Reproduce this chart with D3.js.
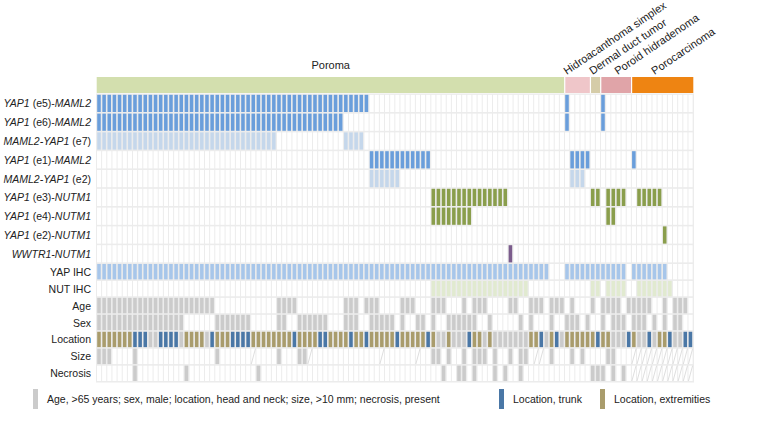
<!DOCTYPE html>
<html><head><meta charset="utf-8">
<script src="https://cdn.jsdelivr.net/npm/d3@7"></script>
<style>body{margin:0;background:#fff}svg{display:block;font-family:"Liberation Sans",Arial,sans-serif}</style>
</head><body><svg id="c" width="768" height="444"></svg>
<script>
// ---------- DATA ----------
const groups = ["Poroma","Hidroacanthoma simplex","Dermal duct tumor","Poroid hidradenoma","Porocarcinoma"];
const groupSizes = [91,5,2,6,12];
const nCases = 116;

const fusionRows = [
  {label:[["YAP1",1],[" (e5)-",0],["MAML2",1]], kind:"dark",  ranges:[[0,52],[91,91],[98,98]]},
  {label:[["YAP1",1],[" (e6)-",0],["MAML2",1]], kind:"dark",  ranges:[[0,47],[91,91],[98,98]]},
  {label:[["MAML2-YAP1",1],[" (e7)",0]],        kind:"light", ranges:[[0,34],[48,51]]},
  {label:[["YAP1",1],[" (e1)-",0],["MAML2",1]], kind:"dark",  ranges:[[53,64],[92,95],[104,104]]},
  {label:[["MAML2-YAP1",1],[" (e2)",0]],        kind:"light", ranges:[[53,58],[92,94]]},
  {label:[["YAP1",1],[" (e3)-",0],["NUTM1",1]], kind:"green", ranges:[[65,79],[96,97],[99,102],[105,109]]},
  {label:[["YAP1",1],[" (e4)-",0],["NUTM1",1]], kind:"green", ranges:[[65,72],[99,100]]},
  {label:[["YAP1",1],[" (e2)-",0],["NUTM1",1]], kind:"green", ranges:[[110,110]]},
  {label:[["WWTR1-NUTM1",1]],                  kind:"purple",ranges:[[80,80]]}
];

const yapIHC = [[0,87],[91,102],[104,110]];
const nutIHC = [[65,83],[96,97],[99,102],[105,111]];
const age = [[0,22],[35,38],[48,50],[52,54],[59,61],[65,67],[71,71],[73,75],[80,81],[84,86],[88,90],[92,92],[96,96],[98,101],[103,107],[110,110],[112,114]];
const sex = [[0,16],[23,29],[35,36],[39,44],[48,50],[53,57],[59,59],[62,63],[65,65],[68,73],[76,76],[82,82],[84,84],[88,88],[91,93],[95,95],[98,98],[100,102],[104,106],[108,108],[110,110],[112,113]];
// E = extremities, T = trunk, H = head and neck
const locationSegments = ["EEEEEEE","TTT","HH","TTTT","H","EEEE","H","T","EEE","TTTT","EEEEEEEE","T","EEEE","TT","EEEE","T","EE","T","EEEEE","T","EEEEE","T","E","HH","E","HHH","T","EE","H","E","HHHHHHH","EE","T","H","E","T","H","EEEEEE","T","EE","HHH","T","E","HH","T","H","EE","T","HH","TT"];
const size = [[0,2],[7,7],[23,23],[35,35],[39,40],[65,66],[68,68],[71,71],[73,75],[77,77],[80,80],[82,83],[88,88],[92,92],[94,94],[99,100]];
const sizeNA = [[30,30],[41,41],[55,55],[62,62],[85,86],[104,115]];
const necrosis = [[7,7],[17,17],[31,31],[67,67],[70,71],[73,73],[77,77],[79,79],[82,82],[96,98],[100,100],[102,102]];
const necrosisNA = [[104,115]];

const legendItems = [
  {text:"Age, >65 years; sex, male; location, head and neck; size, >10 mm; necrosis, present", kind:"gray"},
  {text:"Location, trunk", kind:"trunk"},
  {text:"Location, extremities", kind:"ext"}
];

// ---------- STYLE ----------
const colors = {dark:"#6a9edb", light:"#c5d7eb", green:"#8a9e4c", purple:"#7b5c8c", yap:"#a7c6ea", nut:"#e1ead0",
  gray:"#cbcbcb", trunk:"#4a77a6", ext:"#a99c6c", H:"#cbcbcb", T:"#4a77a6", E:"#a99c6c"};
const groupColors = ["#d3dfae","#efc6c9","#d5cca8","#e0a4a8","#ee8412"];
const labelOffsets = [0, 2, 2, 17, 23];

// ---------- HELPERS ----------
function expand(r){const s=new Set();r.forEach(([a,b])=>{for(let i=a;i<=b;i++)s.add(i);});return s;}
const locationCodes = locationSegments.join("");

const svg = d3.select("#c");
const x = d3.scaleBand().domain(d3.range(nCases)).range([96.7, 693.3]);
const p = x.bandwidth();

const yapIHC_s=expand(yapIHC), nutIHC_s=expand(nutIHC), age_s=expand(age), sex_s=expand(sex),
      size_s=expand(size), sizeNA_s=expand(sizeNA), necrosis_s=expand(necrosis), necrosisNA_s=expand(necrosisNA);
const clinical = [
  {label:"YAP IHC", fill:i=>yapIHC_s.has(i)?colors.yap:null},
  {label:"NUT IHC", fill:i=>nutIHC_s.has(i)?colors.nut:null},
  {label:"Age", fill:i=>age_s.has(i)?colors.gray:null},
  {label:"Sex", fill:i=>sex_s.has(i)?colors.gray:null},
  {label:"Location", fill:i=>colors[locationCodes[i]]},
  {label:"Size", fill:i=>size_s.has(i)?colors.gray:null, na:i=>sizeNA_s.has(i)},
  {label:"Necrosis", fill:i=>necrosis_s.has(i)?colors.gray:null, na:i=>necrosisNA_s.has(i)}
];

const yF = d3.scaleBand().domain(d3.range(fusionRows.length)).range([94, 263.2]);
const yC = d3.scaleBand().domain(d3.range(clinical.length)).range([263.2, 381.8]);

// grid background
svg.append("rect").attr("x",96).attr("y",93.5).attr("width",598).attr("height",289).attr("fill","#ececec");

function drawRow(g, y0, h, fillFn, naFn){
  for(let i=0;i<nCases;i++){
    const f = fillFn(i);
    const cx = x(i);
    if(f){
      g.append("rect").attr("x",cx+0.5).attr("y",y0+0.8).attr("width",p-1.6).attr("height",h-1.6).attr("fill",f);
    } else {
      g.append("rect").attr("x",cx+0.3).attr("y",y0+0.8).attr("width",p-1.0).attr("height",h-1.6).attr("fill","#fff");
      if(naFn && naFn(i)){
        g.append("line").attr("x1",cx+0.3).attr("y1",y0+h-0.8).attr("x2",cx+p-0.7).attr("y2",y0+0.8)
          .attr("stroke","#d6d6d6").attr("stroke-width",0.8);
      }
    }
  }
}

const gRows = svg.append("g");
fusionRows.forEach((r,k)=>{
  const s = expand(r.ranges);
  drawRow(gRows, yF(k), yF.bandwidth(), i=>s.has(i)?colors[r.kind]:null);
  const t = svg.append("text").attr("x",91).attr("y",yF(k)+yF.bandwidth()/2).attr("text-anchor","end")
    .attr("dominant-baseline","central").attr("font-size",10.5).attr("fill","#222");
  r.label.forEach(([txt,it])=>t.append("tspan").text(txt).attr("font-style",it?"italic":"normal"));
});
clinical.forEach((r,k)=>{
  drawRow(gRows, yC(k), yC.bandwidth(), r.fill, r.na);
  svg.append("text").attr("x",91).attr("y",yC(k)+yC.bandwidth()/2).attr("text-anchor","end")
    .attr("dominant-baseline","central").attr("font-size",10.5).attr("fill","#222").text(r.label);
});

// header
let start = 0;
const gH = svg.append("g");
groups.forEach((gname,k)=>{
  const n = groupSizes[k];
  const x0 = x(start), x1 = x(start+n-1)+p;
  gH.append("rect").attr("x",x0+(k?0.6:0)).attr("y",77).attr("width",x1-x0-(k?0.6:0)-(k<groups.length-1?0.6:0)).attr("height",16).attr("fill",groupColors[k]);
  if(k===0){
    svg.append("text").attr("x",(x0+x1)/2).attr("y",69).attr("text-anchor","middle").attr("font-size",11).attr("fill","#222").text(gname);
  } else {
    const lx = x0 + labelOffsets[k];
    svg.append("text").attr("transform",`translate(${lx},75) rotate(-34)`).attr("font-size",11).attr("fill","#222").text(gname);
  }
  start += n;
});

// legend
const legX = [33, 499, 600];
legendItems.forEach((d,k)=>{
  svg.append("rect").attr("x",legX[k]).attr("y",389).attr("width",5).attr("height",20).attr("fill",colors[d.kind]);
  svg.append("text").attr("x",legX[k]+14).attr("y",399).attr("dominant-baseline","central").attr("font-size",10.5).attr("fill","#222").text(d.text);
});
</script></body></html>
